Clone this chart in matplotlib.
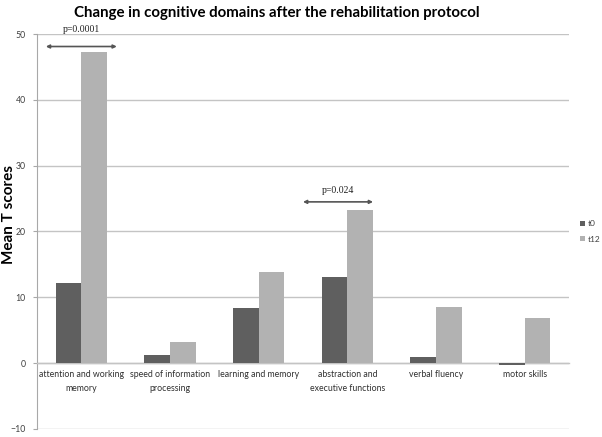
import matplotlib
matplotlib.use("Agg")
import matplotlib.pyplot as plt
import numpy as np

categories = ["attention and working\nmemory", "speed of information\nprocessing",
              "learning and memory", "abstraction and\nexecutive functions",
              "verbal fluency", "motor skills"]
t0 = [12.2, 1.2, 8.4, 13.1, 0.95, -0.35]
t12 = [47.3, 3.2, 13.9, 23.3, 8.5, 6.9]
yticks = [-10, 0, 10, 20, 30, 40, 50]
annotations = [("p=0.0001", -0.40, 0.40, 48.1, 50.0), ("p=0.024", -0.50, 0.29, 24.5, 25.6)]
annot_cats = [0, 3]

plt.rcParams['font.family'] = ['Lato', 'DejaVu Sans']

fig = plt.figure(figsize=(6.02, 4.37), dpi=100)
ax = fig.add_axes([37/602, 1-429/437, (569-37)/602, (429-34)/437])

x = np.arange(len(categories))
w = 0.288
c0 = '#5f5f5f'
c12 = '#b2b2b2'
ax.bar(x - w/2, t0, w, color=c0, label='t0', zorder=3)
ax.bar(x + w/2, t12, w, color=c12, label='t12', zorder=3)

ax.set_xlim(-0.5, len(categories) - 0.5)
ax.set_ylim(-10, 50)
ax.set_yticks(yticks)
ax.yaxis.grid(True, color='#c4c4c4', linewidth=1.0, zorder=0)
ax.set_axisbelow(True)

for s in ['top', 'right']:
    ax.spines[s].set_visible(False)
ax.spines['left'].set_color('#a8a8a8')
ax.spines['bottom'].set_position(('data', 0))
ax.spines['bottom'].set_color('#c4c4c4')
ax.spines['bottom'].set_linewidth(1.0)

ax.set_xticks(x)
ax.set_xticklabels(categories, fontsize=6.3, color='#303030', linespacing=1.7)
ax.tick_params(axis='x', length=0, pad=5)
ax.tick_params(axis='y', length=3, color='#a8a8a8', labelsize=6.3, labelcolor='#404040', pad=5)

for (txt, a, b, yarr, ytxt), ci in zip(annotations, annot_cats):
    ax.annotate('', xy=(ci + a, yarr), xytext=(ci + b, yarr),
                arrowprops=dict(arrowstyle='<|-|>', color='#555555', lw=1.2,
                                mutation_scale=5, shrinkA=0, shrinkB=0))
    ax.text(ci + (a + b) / 2, ytxt, txt, ha='center', va='bottom', fontsize=7,
            color='#202020', family=['Liberation Serif'])

ax.set_ylabel('Mean T scores', fontsize=11, fontweight='bold', color='#000000')
ax.yaxis.label.set_va('center')
ax.yaxis.set_label_coords((9 - 37)/532, (429-215)/395)

fig.suptitle('Change in cognitive domains after the rehabilitation protocol',
             x=277/602, y=1-13/437, va='center', fontsize=10.8, fontweight='bold')

leg = ax.legend(loc='center left', bbox_to_anchor=(580/602, 1-231.5/437),
                bbox_transform=fig.transFigure, frameon=False, fontsize=6,
                handlelength=0.6, handleheight=0.6, handletextpad=0.3,
                labelspacing=1.0, borderpad=0, borderaxespad=0)
for t in leg.get_texts():
    t.set_color('#404040')

fig.savefig('out.png', dpi=100)
